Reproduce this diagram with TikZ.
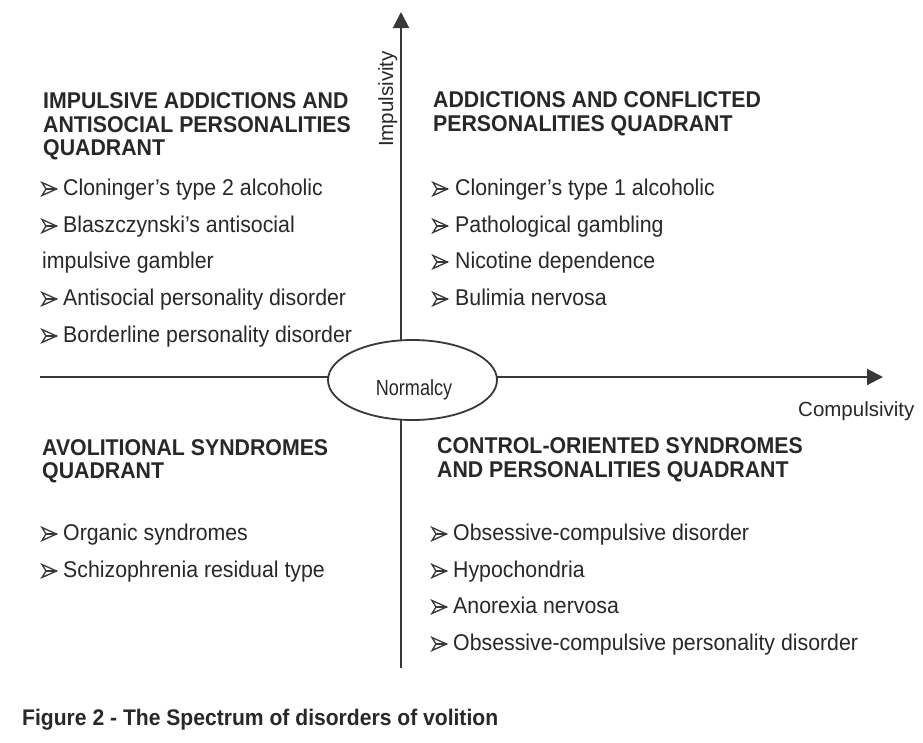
\documentclass[tikz,border=0pt]{standalone}
\usepackage{fontspec}
\setmainfont{Liberation Sans}
\usetikzlibrary{arrows.meta,shapes.geometric}
\definecolor{ink}{HTML}{282828}
\definecolor{axis}{HTML}{383838}
\tikzset{
  head/.style={anchor=base west, inner sep=0pt, text=ink, yscale=1.07, font=\fontsize{21.3}{24}\selectfont\bfseries},
  item/.style={anchor=base west, inner sep=0pt, text=ink, yscale=1.07, font=\fontsize{21.3}{24}\selectfont},
  axlabel/.style={inner sep=0pt, text=ink, font=\fontsize{20.5}{24}\selectfont},
  axisline/.style={draw=axis, line width=2pt},
  bul/.pic={\draw[axis, line width=1.3pt, line join=miter] (0,-6.5) -- (14.5,0) -- (0,6.5) -- (4,0) -- cycle;
            \draw[axis, line width=1.3pt] (4,0) -- (14.5,0);}
}
\begin{document}
\begin{tikzpicture}[x=1pt, y=-1pt]
\useasboundingbox (0,0) rectangle (923,742);
\fill[white] (0,0) rectangle (923,742);
% axes
\coordinate (vbot) at (401,668);
\coordinate (vtop) at (401,12);
\coordinate (hleft) at (40,377);
\coordinate (hright) at (883,377);
\draw[axisline, -{Triangle[length=16pt,width=16pt]}] (vbot) -- (vtop);
\draw[axisline, -{Triangle[length=16pt,width=16pt]}] (hleft) -- (hright);
\node[draw=axis, fill=white, line width=1.8pt, ellipse, minimum width=169pt, minimum height=80pt, inner sep=0pt] (norm) at (412.5,380) {};
\node[inner sep=0pt, text=ink, anchor=base, font=\fontsize{22}{24}\selectfont, xscale=0.82] (normtxt) at (414,395) {Normalcy};
\node[axlabel, rotate=90, anchor=base] (imp) at (393,99) {Impulsivity};
\node[axlabel, anchor=base west] (comp) at (798,416) {Compulsivity};
% top-left quadrant
\node[head] (tl1) at (43,108) {IMPULSIVE ADDICTIONS AND};
\node[head] (tl2) at (43,132) {ANTISOCIAL PERSONALITIES};
\node[head] (tl3) at (43,155) {QUADRANT};
\pic at (42,189) {bul};
\node[item] (tla) at (63,195) {Cloninger’s type 2 alcoholic};
\pic at (42,226) {bul};
\node[item] (tlb) at (63,232) {Blaszczynski’s antisocial};
\node[item] (tlb2) at (42,268) {impulsive gambler};
\pic at (42,299) {bul};
\node[item] (tlc) at (63,305) {Antisocial personality disorder};
\pic at (42,336) {bul};
\node[item] (tld) at (63,342) {Borderline personality disorder};
% top-right quadrant
\node[head] (tr1) at (433,107) {ADDICTIONS AND CONFLICTED};
\node[head] (tr2) at (433,131) {PERSONALITIES QUADRANT};
\pic at (433,189) {bul};
\node[item] (tra) at (455,195) {Cloninger’s type 1 alcoholic};
\pic at (433,226) {bul};
\node[item] (trb) at (455,232) {Pathological gambling};
\pic at (433,262) {bul};
\node[item] (trc) at (455,268) {Nicotine dependence};
\pic at (433,299) {bul};
\node[item] (trd) at (455,305) {Bulimia nervosa};
% bottom-left quadrant
\node[head] (bl1) at (42,455) {AVOLITIONAL SYNDROMES};
\node[head] (bl2) at (42,478) {QUADRANT};
\pic at (42,534) {bul};
\node[item] (bla) at (63,540) {Organic syndromes};
\pic at (42,571) {bul};
\node[item] (blb) at (63,577) {Schizophrenia residual type};
% bottom-right quadrant
\node[head] (br1) at (437,453) {CONTROL-ORIENTED SYNDROMES};
\node[head] (br2) at (437,477) {AND PERSONALITIES QUADRANT};
\pic at (432,534) {bul};
\node[item] (bra) at (453,540) {Obsessive-compulsive disorder};
\pic at (432,571) {bul};
\node[item] (brb) at (453,577) {Hypochondria};
\pic at (432,607) {bul};
\node[item] (brc) at (453,613) {Anorexia nervosa};
\pic at (432,644) {bul};
\node[item] (brd) at (453,650) {Obsessive-compulsive personality disorder};
% caption
\node[head, font=\fontsize{21.1}{24}\selectfont\bfseries] (cap) at (22,725) {Figure 2 - The Spectrum of disorders of volition};
\end{tikzpicture}
\end{document}
